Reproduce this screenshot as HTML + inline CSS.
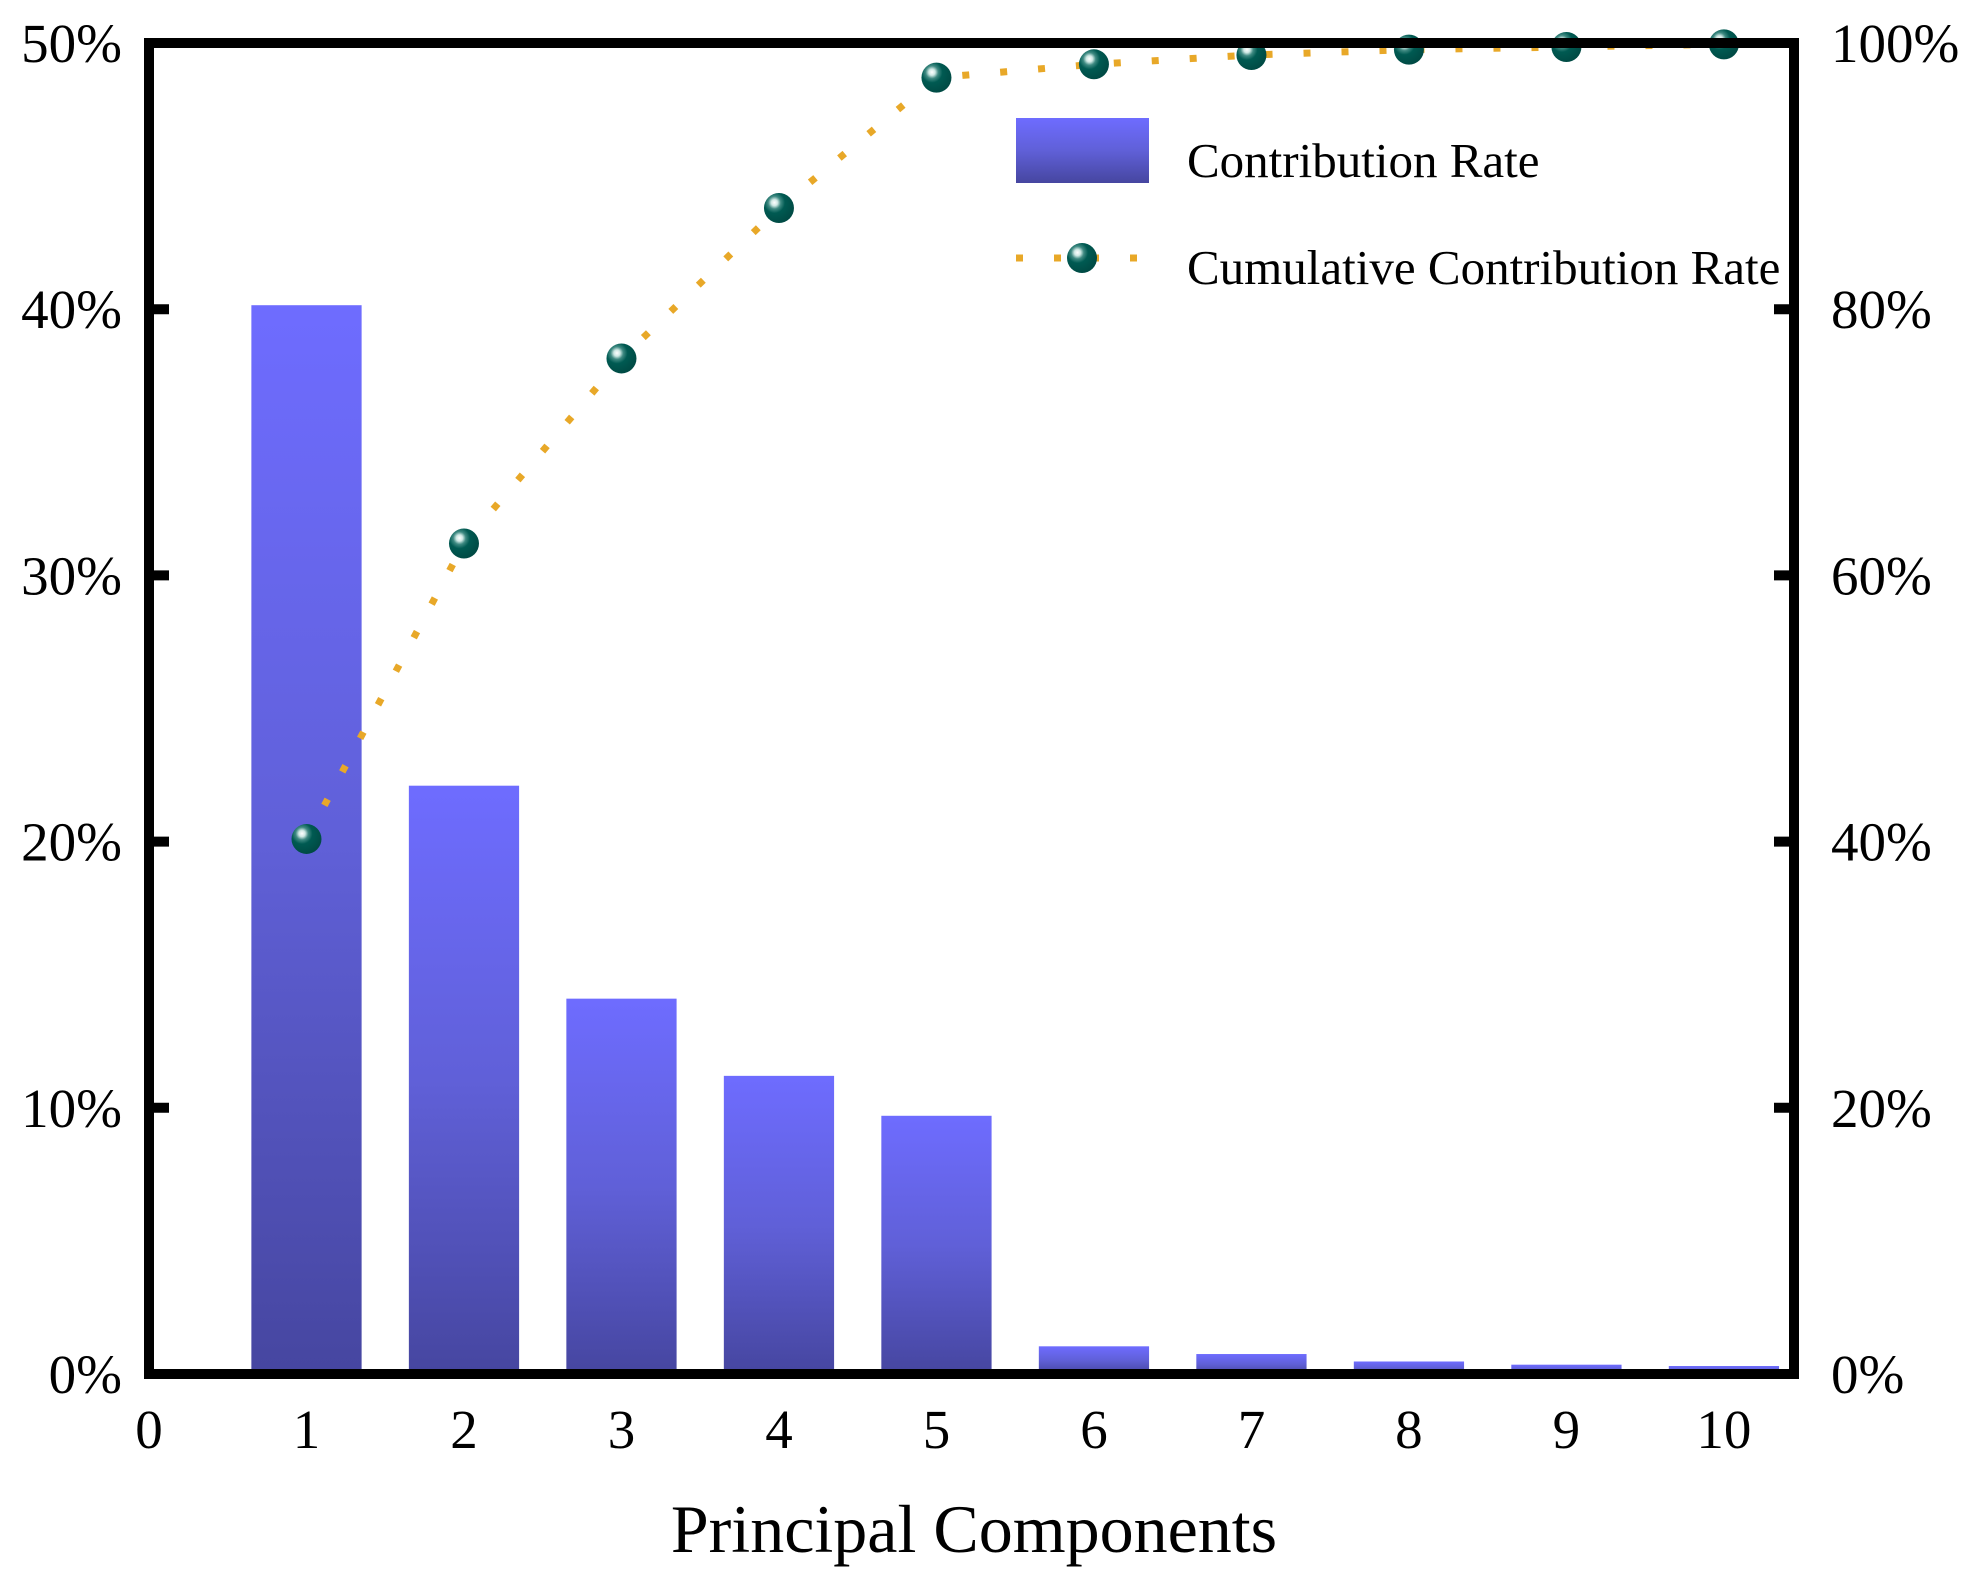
<!DOCTYPE html>
<html><head><meta charset="utf-8"><style>
html,body{margin:0;padding:0;background:#fff}
svg{display:block}
text{font-family:"Liberation Serif",serif;fill:#000}
</style></head><body>
<svg id="chart" width="1968" height="1583" viewBox="0 0 1968 1583" xmlns="http://www.w3.org/2000/svg">
<defs>
<linearGradient id="barGrad" x1="0" y1="0" x2="0" y2="1">
<stop offset="0" stop-color="#6e6cff"/><stop offset="0.5" stop-color="#6060d8"/><stop offset="1" stop-color="#4646a0"/>
</linearGradient>
<radialGradient id="ball" cx="0.35" cy="0.32" r="0.7">
<stop offset="0" stop-color="#ffffff"/><stop offset="0.15" stop-color="#cfe8e4"/><stop offset="0.3" stop-color="#3f8a82"/><stop offset="0.5" stop-color="#005a52"/><stop offset="1" stop-color="#004a44"/>
</radialGradient>
</defs>
<g id="bars"></g>
<g id="line"></g>
<g id="frame"></g>
<g id="labels"></g>
</svg>
<script>
const categories = [1,2,3,4,5,6,7,8,9,10];
const contribution = [40.15,22.1,14.1,11.2,9.7,1.04,0.75,0.47,0.35,0.3];
const cumulative = [40.2,62.4,76.3,87.6,97.4,98.4,99.1,99.5,99.7,99.9];
const xTicks = [0,1,2,3,4,5,6,7,8,9,10];
const leftTicks = [0,10,20,30,40,50];
const rightTicks = [0,20,40,60,80,100];

const L=149,R=1794,T=43,B=1374, XMAX=10.445;
const NS='http://www.w3.org/2000/svg';
const xs=v=>L+(v/XMAX)*(R-L);
const yl=v=>B-(v/50)*(B-T);
const yr=v=>B-(v/100)*(B-T);
function mk(tag,attrs,parent){const e=document.createElementNS(NS,tag);for(const k in attrs)e.setAttribute(k,attrs[k]);parent.appendChild(e);return e;}
const gBars=document.getElementById('bars'),gLine=document.getElementById('line'),gFrame=document.getElementById('frame'),gLab=document.getElementById('labels');
const bw=0.7*(xs(1)-xs(0));
categories.forEach((c,i)=>{
  const y=yl(contribution[i]);
  const r=mk('rect',{x:xs(c)-bw/2,y:y,width:bw,height:B-y,fill:'url(#barGrad)'},gBars);
  
  
});
const pts=categories.map((c,i)=>xs(c)+','+yr(cumulative[i])).join(' ');
const pl=mk('polyline',{points:pts,fill:'none',stroke:'#e8a828','stroke-width':7,'stroke-dasharray':'7 31'},gLine);


categories.forEach((c,i)=>{
  const m=mk('circle',{cx:xs(c),cy:yr(cumulative[i]),r:15,fill:'url(#ball)'},gLine);
  
  
});
const fr=mk('rect',{x:L,y:T,width:R-L,height:B-T,fill:'none',stroke:'#000','stroke-width':10},gFrame);


leftTicks.forEach(v=>{
  const y=yl(v);
  const t=mk('line',{x1:L,x2:L+20,y1:y,y2:y,stroke:'#000','stroke-width':10},gFrame);
  
  
  const tx=mk('text',{x:122,y:y+19,'text-anchor':'end','font-size':55},gLab);
  tx.textContent=v+'%';
  
  
});
rightTicks.forEach(v=>{
  const y=yr(v);
  const t=mk('line',{x1:R-20,x2:R,y1:y,y2:y,stroke:'#000','stroke-width':10},gFrame);
  
  
  const tx=mk('text',{x:1831,y:y+19,'text-anchor':'start','font-size':55},gLab);
  tx.textContent=v+'%';
  
  
});
xTicks.forEach(v=>{
  const tx=mk('text',{x:xs(v),y:1448,'text-anchor':'middle','font-size':55},gLab);
  tx.textContent=v;
  
  
});
const title=mk('text',{x:974,y:1552,'text-anchor':'middle','font-size':68},gLab);
title.textContent='Principal Components';


const lg=mk('g',{},gLab);


const lr=mk('rect',{x:1016,y:118,width:133,height:65,fill:'url(#barGrad)'},lg);


const lt1=mk('text',{x:1187,y:177,'font-size':49},lg);
lt1.textContent='Contribution Rate';


const ll=mk('line',{x1:1016,x2:1149,y1:258,y2:258,stroke:'#e8a828','stroke-width':7,'stroke-dasharray':'7 31'},lg);


const lc=mk('circle',{cx:1082,cy:258,r:15,fill:'url(#ball)'},lg);


const lt2=mk('text',{x:1187,y:284,'font-size':49},lg);
lt2.textContent='Cumulative Contribution Rate';


</script>
</body></html>
